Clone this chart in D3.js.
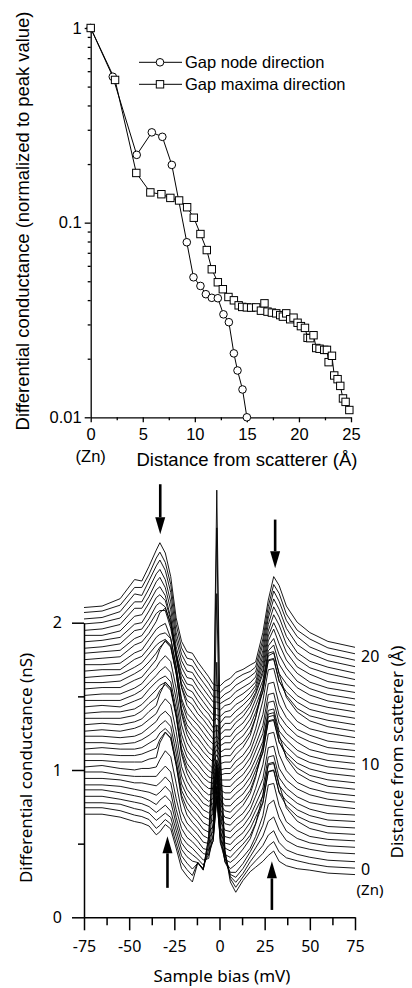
<!DOCTYPE html>
<html>
<head>
<meta charset="utf-8">
<script src="https://cdn.jsdelivr.net/npm/d3@7"></script>
<style>
  body { margin: 0; background: #fff; }
  svg { display: block; }
</style>
</head>
<body>
<svg id="chart" width="412" height="988"></svg>
<script>
// ---------- top panel: resonance intensity vs distance ----------
const nodeDist = [0, 2.12, 4.42, 5.87, 6.88, 7.79, 9.23, 9.87, 10.54, 11.06, 11.63, 12.21, 12.75, 13.27, 13.75, 14.10, 14.58, 15.0];
const nodeG = [1, 0.562, 0.223, 0.291, 0.276, 0.198, 0.0793, 0.0524, 0.0473, 0.0429, 0.0411, 0.0409, 0.0338, 0.0308, 0.0213, 0.0174, 0.0139, 0.0100];

const maxDist = [0, 2.34, 4.38, 5.73, 6.79, 7.65, 8.49, 9.26, 9.90, 10.54, 11.15, 11.63, 12.21, 12.69, 13.23,
  13.75, 14.21, 14.55, 15.0, 15.41, 15.89, 16.35, 16.69, 16.98, 17.40, 17.82, 18.20, 18.46, 18.78, 19.16,
  19.48, 19.87, 20.19, 20.58, 20.83, 21.09, 21.40, 21.66, 21.98, 22.43, 22.69, 22.85, 23.17, 23.39, 23.71,
  23.97, 24.23, 24.48, 24.84];
const maxG = [1, 0.541, 0.180, 0.143, 0.140, 0.134, 0.130, 0.120, 0.106, 0.0874, 0.0723, 0.0576, 0.0494, 0.0455, 0.0415,
  0.0399, 0.0376, 0.0369, 0.0367, 0.0366, 0.0367, 0.0353, 0.0385, 0.0349, 0.0345, 0.0342, 0.0335, 0.0329, 0.0342, 0.0319,
  0.0325, 0.0306, 0.0294, 0.0288, 0.0256, 0.0255, 0.0264, 0.0227, 0.0225, 0.0222, 0.0222, 0.0192, 0.0207, 0.0164, 0.0157,
  0.0145, 0.0125, 0.0120, 0.0109];

const legendLabels = ["Gap node direction", "Gap maxima direction"];
const topXTicks = [0, 5, 10, 15, 20, 25];
const topXMinor = [2.5, 7.5, 12.5, 17.5, 22.5];
const topYTicks = [0.01, 0.1, 1];
const topYMinor = [0.02, 0.03, 0.04, 0.05, 0.06, 0.07, 0.08, 0.09, 0.2, 0.3, 0.4, 0.5, 0.6, 0.7, 0.8, 0.9];

// ---------- bottom panel: spectra waterfall ----------
// sample bias (mV)
const bias = [-75, -65, -55, -47, -43, -39, -35, -33, -30, -27, -24, -21, -18, -15, -12, -9, -6, -3.5, -1.5, 0.5,
  3, 6, 9, 13, 17, 20, 24, 27, 30, 33, 37, 43, 50, 60, 75];
// distance from scatterer (Å), one spectrum each
const distances = [0, 0.6, 1.2, 1.8, 2.4, 3, 3.6, 4.2, 4.8, 5.4, 6, 6.6, 7.2, 7.8, 8.4, 9, 9.6, 10.2, 10.8, 11.4,
  12, 12.6, 13.2, 13.8, 14.4, 15, 15.6, 16.2, 16.8, 17.4, 18, 18.6, 19.2, 19.8, 20.4, 21];
// conductance (nS) before offset: one row per bias value, one column per distance
const dIdV = [
  [.70,.70,.69,.69,.69,.68,.68,.68,.67,.67,.67,.66,.66,.66,.65,.65,.65,.64,.64,.64,.63,.63,.63,.62,.62,.62,.61,.61,.60,.60,.60,.59,.59,.58,.58,.57], // -75
  [.70,.70,.69,.69,.69,.68,.68,.68,.68,.67,.67,.67,.66,.66,.66,.66,.65,.65,.65,.64,.64,.64,.63,.63,.63,.62,.62,.62,.61,.61,.60,.60,.60,.59,.59,.58], // -65
  [.68,.68,.68,.67,.67,.67,.67,.66,.66,.66,.66,.66,.65,.65,.65,.65,.65,.65,.64,.64,.64,.64,.64,.64,.63,.63,.63,.63,.63,.63,.63,.63,.63,.63,.63,.63], // -55
  [.65,.65,.65,.65,.65,.65,.65,.65,.65,.66,.66,.66,.66,.66,.67,.67,.67,.67,.68,.68,.68,.69,.69,.69,.70,.70,.71,.71,.72,.72,.73,.74,.74,.75,.75,.76], // -47
  [.64,.64,.64,.64,.64,.64,.65,.65,.66,.66,.67,.67,.68,.68,.69,.69,.70,.70,.70,.71,.71,.71,.72,.72,.72,.72,.73,.73,.73,.73,.74,.74,.74,.74,.75,.75], // -43
  [.62,.62,.62,.62,.62,.63,.64,.65,.66,.68,.69,.70,.71,.72,.73,.74,.75,.75,.76,.76,.77,.77,.77,.78,.78,.79,.79,.80,.80,.81,.82,.82,.83,.84,.84,.85], // -39
  [.56,.56,.57,.58,.59,.61,.63,.65,.67,.69,.71,.73,.75,.76,.77,.78,.79,.80,.81,.81,.82,.83,.83,.84,.85,.86,.87,.88,.89,.90,.91,.92,.93,.94,.95,.96], // -35
  [.58,.58,.59,.60,.62,.63,.65,.68,.72,.79,.77,.77,.78,.80,.82,.86,.84,.83,.83,.84,.86,.90,.87,.86,.87,.88,.93,.90,.91,.92,.93,.95,.96,.98,.99,1.01], // -33
  [.63,.62,.62,.63,.65,.67,.69,.72,.78,.86,.82,.80,.81,.83,.87,.94,.88,.85,.85,.87,.90,.96,.91,.88,.88,.90,.96,.90,.88,.88,.87,.88,.89,.91,.92,.94], // -30
  [.60,.59,.59,.59,.61,.63,.65,.68,.74,.82,.78,.76,.77,.79,.83,.90,.84,.81,.81,.83,.86,.92,.87,.84,.84,.80,.86,.78,.76,.75,.72,.73,.74,.76,.77,.78], // -27
  [.47,.46,.46,.46,.46,.46,.47,.50,.56,.64,.60,.58,.59,.61,.65,.72,.66,.63,.63,.65,.68,.74,.69,.66,.66,.60,.66,.58,.54,.52,.48,.48,.49,.49,.50,.50], // -24
  [.33,.33,.33,.33,.33,.33,.34,.35,.37,.41,.39,.38,.38,.39,.41,.45,.42,.40,.40,.41,.43,.46,.43,.41,.41,.39,.42,.38,.36,.35,.34,.34,.34,.34,.34,.34], // -21
  [.28,.28,.28,.28,.28,.28,.28,.29,.29,.30,.30,.30,.30,.30,.31,.32,.31,.30,.30,.30,.31,.32,.31,.30,.30,.29,.30,.29,.28,.28,.27,.27,.27,.27,.27,.27], // -18
  [.24,.24,.24,.25,.25,.25,.25,.25,.25,.25,.25,.25,.25,.25,.25,.25,.25,.25,.25,.25,.25,.25,.25,.25,.25,.25,.25,.26,.26,.26,.26,.26,.26,.26,.26,.26], // -15
  [.37,.33,.28,.24,.22,.21,.21,.21,.21,.21,.21,.21,.21,.21,.21,.21,.21,.21,.21,.21,.21,.21,.21,.21,.21,.21,.20,.20,.20,.20,.20,.20,.20,.20,.20,.20], // -12
  [.32,.28,.24,.20,.18,.17,.17,.16,.16,.16,.16,.16,.16,.16,.16,.16,.16,.16,.16,.16,.16,.16,.16,.16,.16,.16,.16,.16,.15,.15,.15,.15,.15,.15,.15,.15], // -9
  [.55,.49,.41,.33,.25,.18,.16,.15,.15,.14,.14,.14,.14,.14,.14,.13,.13,.13,.13,.12,.12,.12,.12,.11,.11,.11,.11,.11,.11,.11,.10,.10,.10,.10,.10,.10], // -6
  [1.16,1.04,.85,.65,.47,.35,.26,.21,.19,.19,.18,.18,.18,.17,.16,.15,.14,.13,.12,.11,.10,.09,.09,.09,.08,.08,.07,.07,.06,.06,.06,.06,.06,.05,.05,.05], // -3.5
  [2.90,2.60,2.11,1.60,1.13,.84,.62,.50,.45,.43,.42,.41,.40,.38,.36,.33,.30,.27,.23,.20,.17,.15,.14,.13,.12,.10,.09,.09,.08,.08,.06,.06,.06,.05,.05,.04], // -1.5
  [1.11,.99,.81,.61,.44,.33,.24,.20,.18,.18,.17,.17,.17,.16,.15,.14,.13,.12,.11,.10,.09,.08,.08,.08,.07,.07,.06,.06,.05,.05,.05,.05,.05,.04,.04,.04], // 0.5
  [.45,.41,.34,.27,.20,.16,.13,.12,.12,.11,.11,.11,.11,.11,.11,.10,.10,.10,.10,.10,.10,.09,.09,.09,.09,.09,.09,.09,.09,.09,.08,.08,.07,.07,.07,.07], // 3
  [.24,.22,.19,.16,.13,.11,.11,.10,.10,.10,.10,.10,.10,.10,.10,.10,.10,.10,.10,.10,.10,.09,.09,.09,.09,.09,.09,.09,.09,.09,.09,.09,.09,.09,.09,.09], // 6
  [.17,.16,.15,.14,.13,.14,.14,.14,.14,.14,.14,.14,.14,.14,.14,.14,.14,.14,.14,.14,.14,.14,.14,.14,.14,.14,.14,.14,.13,.13,.13,.13,.13,.13,.13,.13], // 9
  [.25,.23,.21,.20,.19,.19,.20,.19,.18,.18,.18,.18,.18,.19,.18,.18,.18,.18,.18,.18,.18,.18,.19,.18,.18,.18,.18,.18,.17,.17,.16,.16,.16,.16,.16,.15], // 13
  [.31,.30,.29,.28,.27,.25,.27,.25,.25,.25,.25,.25,.25,.27,.25,.25,.25,.25,.25,.25,.25,.25,.27,.25,.25,.25,.25,.25,.23,.22,.21,.20,.19,.19,.18,.18], // 17
  [.34,.34,.34,.34,.34,.33,.37,.33,.33,.33,.33,.34,.35,.38,.35,.34,.33,.33,.34,.34,.35,.36,.39,.35,.34,.34,.34,.33,.30,.28,.26,.24,.23,.22,.21,.20], // 20
  [.38,.39,.40,.42,.45,.47,.57,.47,.43,.43,.44,.46,.51,.60,.51,.46,.45,.45,.46,.47,.50,.55,.62,.53,.48,.47,.47,.47,.45,.44,.43,.42,.41,.41,.40,.40], // 24
  [.42,.44,.47,.52,.59,.68,.78,.68,.64,.64,.65,.67,.72,.81,.72,.67,.66,.66,.67,.68,.71,.76,.83,.74,.69,.68,.67,.66,.65,.64,.63,.63,.63,.62,.62,.62], // 27
  [.45,.47,.50,.55,.62,.69,.79,.69,.65,.65,.66,.68,.73,.82,.73,.68,.67,.67,.68,.69,.72,.77,.84,.75,.70,.70,.71,.71,.73,.73,.74,.75,.76,.77,.77,.78], // 30
  [.38,.40,.42,.46,.50,.54,.64,.54,.50,.50,.51,.53,.58,.67,.58,.53,.52,.52,.53,.54,.57,.62,.69,.60,.55,.56,.58,.60,.63,.65,.67,.68,.69,.70,.71,.72], // 33
  [.35,.36,.37,.39,.41,.43,.48,.45,.44,.44,.44,.45,.47,.51,.48,.46,.46,.46,.46,.47,.48,.50,.53,.50,.48,.49,.50,.51,.52,.53,.54,.55,.56,.57,.57,.58], // 37
  [.33,.34,.34,.35,.36,.37,.39,.38,.38,.38,.38,.39,.39,.41,.40,.39,.39,.39,.40,.40,.40,.41,.43,.41,.41,.41,.42,.42,.43,.43,.44,.44,.45,.46,.46,.47], // 43
  [.32,.32,.32,.33,.33,.33,.34,.34,.34,.34,.34,.35,.35,.36,.35,.35,.35,.35,.35,.36,.36,.36,.37,.36,.36,.36,.37,.37,.37,.38,.38,.38,.39,.39,.40,.40], // 50
  [.30,.30,.30,.31,.31,.31,.31,.31,.31,.31,.32,.32,.32,.32,.32,.32,.32,.32,.32,.32,.32,.33,.33,.33,.33,.33,.33,.33,.33,.33,.34,.34,.34,.34,.34,.34], // 60
  [.29,.29,.29,.30,.30,.30,.30,.30,.30,.30,.30,.30,.30,.30,.30,.30,.30,.30,.30,.30,.30,.30,.30,.30,.30,.30,.30,.30,.30,.30,.30,.30,.30,.30,.30,.30]  // 75
];
const offsetPerA = 0.073;   // nS of vertical offset per Å
const rightEndBase = 0.31;  // where the d = 0 spectrum ends at +75 mV
const distLabels = [0, 10, 20];

const botXTicks = [-75, -50, -25, 0, 25, 50, 75];
const botXMinor = [-62.5, -37.5, -12.5, 12.5, 37.5, 62.5];
const botYTicks = [0, 1, 2];
const botYMinor = [0.5, 1.5];

// arrows marking the coherence peaks (top) and the Zn-site bumps (bottom)
const arrowBias = [-32.8, 30.8, -28.8, 29];
const arrowFrom = [2.94, 2.70, 0.20, 0.05];
const arrowTo = [2.60, 2.37, 0.55, 0.38];

const ink = "#000";
const svg = d3.select("#chart");

function restyle(g, family, size, width) {
  g.attr("font-family", family).attr("font-size", size);
  g.selectAll("path, line").attr("stroke", ink).attr("stroke-width", width);
  g.selectAll("text").attr("fill", ink);
}

// ================= top panel =================
const topFont = "'Liberation Sans', Arial, sans-serif";
const xTop = d3.scaleLinear().domain([0, 25]).range([90.7, 351]);
const yTop = d3.scaleLog().domain([0.01, 1]).range([417.3, 28]);
const topG = svg.append("g");

topG.append("g")
  .attr("transform", `translate(0,${yTop(0.01)})`)
  .call(d3.axisBottom(xTop).tickValues(topXTicks).tickSize(5).tickSizeOuter(0).tickPadding(6).tickFormat(d => String(d)))
  .call(g => restyle(g, topFont, 16.5, 1.3));
topG.append("g")
  .attr("transform", `translate(0,${yTop(0.01)})`)
  .call(d3.axisBottom(xTop).tickValues(topXMinor).tickSize(3).tickFormat(""))
  .call(g => g.select(".domain").remove())
  .call(g => restyle(g, topFont, 16, 1.3));

topG.append("g")
  .attr("transform", `translate(${xTop(0)},0)`)
  .call(d3.axisLeft(yTop).tickValues(topYTicks).tickSize(6).tickSizeOuter(0).tickPadding(3).tickFormat(d => String(d)))
  .call(g => restyle(g, topFont, 16.5, 1.3));
topG.append("g")
  .attr("transform", `translate(${xTop(0)},0)`)
  .call(d3.axisLeft(yTop).tickValues(topYMinor).tickSize(3).tickFormat(""))
  .call(g => g.select(".domain").remove())
  .call(g => restyle(g, topFont, 16, 1.3));

topG.append("text").attr("x", xTop(0)).attr("y", 462)
  .attr("text-anchor", "middle").attr("font-family", topFont).attr("font-size", 16.5).text("(Zn)");
topG.append("text").attr("x", 247).attr("y", 466)
  .attr("text-anchor", "middle").attr("font-family", topFont).attr("font-size", 18.5)
  .text("Distance from scatterer (Å)");
topG.append("text").attr("transform", "translate(29,221) rotate(-90)")
  .attr("text-anchor", "middle").attr("font-family", topFont).attr("font-size", 18.4)
  .text("Differential conductance (normalized to peak value)");

const topLine = d3.line().x(d => xTop(d[0])).y(d => yTop(d[1]));
const nodePts = nodeDist.map((d, i) => [d, nodeG[i]]);
const maxPts = maxDist.map((d, i) => [d, maxG[i]]);

topG.append("path").attr("d", topLine(nodePts)).attr("fill", "none").attr("stroke", ink).attr("stroke-width", 1);
topG.append("path").attr("d", topLine(maxPts)).attr("fill", "none").attr("stroke", ink).attr("stroke-width", 1);

topG.selectAll(".node").data(nodePts).enter().append("circle")
  .attr("class", "node")
  .attr("cx", d => xTop(d[0])).attr("cy", d => yTop(d[1])).attr("r", 3.8)
  .attr("fill", "#fff").attr("stroke", ink).attr("stroke-width", 1);
topG.selectAll(".max").data(maxPts).enter().append("rect")
  .attr("class", "max")
  .attr("x", d => xTop(d[0]) - 3.7).attr("y", d => yTop(d[1]) - 3.7)
  .attr("width", 7.4).attr("height", 7.4)
  .attr("fill", "#fff").attr("stroke", ink).attr("stroke-width", 1);

// legend
legendLabels.forEach((label, k) => {
  const ly = 62.3 + k * 22;
  const lg = topG.append("g");
  lg.append("line").attr("x1", 139).attr("x2", 182).attr("y1", ly).attr("y2", ly)
    .attr("stroke", ink).attr("stroke-width", 1);
  if (k === 0) {
    lg.append("circle").attr("cx", 160).attr("cy", ly).attr("r", 3.8)
      .attr("fill", "#fff").attr("stroke", ink);
  } else {
    lg.append("rect").attr("x", 156.3).attr("y", ly - 3.7).attr("width", 7.4).attr("height", 7.4)
      .attr("fill", "#fff").attr("stroke", ink);
  }
  lg.append("text").attr("x", 185).attr("y", ly + 5.8)
    .attr("font-family", topFont).attr("font-size", 16.5).text(label);
});

// ================= bottom panel =================
const botFont = "'Noto Sans', 'Open Sans', sans-serif";
const xBot = d3.scaleLinear().domain([-75, 75]).range([84, 355]);
const yBot = d3.scaleLinear().domain([0, 2]).range([917.3, 622.7]);
const botG = svg.append("g");

// spectra
const specLine = d3.line().x(d => xBot(d[0])).y(d => yBot(d[1]));
const spectra = distances.map((dist, i) => bias.map((v, j) => [v, dIdV[j][i] + offsetPerA * dist]));
botG.append("g").selectAll("path").data(spectra).enter().append("path")
  .attr("d", specLine)
  .attr("fill", "none").attr("stroke", ink).attr("stroke-width", 0.9).attr("stroke-linejoin", "round");

// axes
botG.append("g")
  .attr("transform", `translate(0,${yBot(0)})`)
  .call(d3.axisBottom(xBot).tickValues(botXTicks).tickSize(13).tickSizeOuter(0).tickPadding(10).tickFormat(d => String(d)))
  .call(g => restyle(g, botFont, 16, 1.5));
botG.append("g")
  .attr("transform", `translate(0,${yBot(0)})`)
  .call(d3.axisBottom(xBot).tickValues(botXMinor).tickSize(8).tickFormat(""))
  .call(g => g.select(".domain").remove())
  .call(g => restyle(g, botFont, 16, 1.5));
botG.append("g")
  .attr("transform", `translate(${xBot(-75)},0)`)
  .call(d3.axisLeft(yBot).tickValues(botYTicks).tickSize(12).tickSizeOuter(0).tickPadding(10).tickFormat(d => String(d)))
  .call(g => restyle(g, botFont, 16, 1.5));
botG.append("g")
  .attr("transform", `translate(${xBot(-75)},0)`)
  .call(d3.axisLeft(yBot).tickValues(botYMinor).tickSize(6).tickFormat(""))
  .call(g => g.select(".domain").remove())
  .call(g => restyle(g, botFont, 16, 1.5));

// right-hand distance labels
botG.selectAll(".dist").data(distLabels).enter().append("text")
  .attr("class", "dist")
  .attr("x", 361).attr("y", d => yBot(rightEndBase + offsetPerA * d) + (d === 0 ? 3.5 : 5.5))
  .attr("font-family", botFont).attr("font-size", 16).text(d => String(d));
botG.append("text").attr("x", 370).attr("y", yBot(rightEndBase) + 23)
  .attr("text-anchor", "middle").attr("font-family", botFont).attr("font-size", 15).text("(Zn)");

botG.append("text").attr("transform", "translate(403,752) rotate(-90)")
  .attr("text-anchor", "middle").attr("font-family", botFont).attr("font-size", 17)
  .text("Distance from scatterer (Å)");
botG.append("text").attr("transform", "translate(32,768) rotate(-90)")
  .attr("text-anchor", "middle").attr("font-family", botFont).attr("font-size", 17)
  .text("Differential conductance (nS)");
botG.append("text").attr("x", 222).attr("y", 982)
  .attr("text-anchor", "middle").attr("font-family", botFont).attr("font-size", 17)
  .text("Sample bias (mV)");

// arrows
arrowBias.forEach((v, k) => {
  const x = xBot(v), y0 = yBot(arrowFrom[k]), y1 = yBot(arrowTo[k]);
  const dir = Math.sign(y1 - y0);
  const headLen = 17, headHalf = 5;
  botG.append("line").attr("x1", x).attr("x2", x).attr("y1", y0).attr("y2", y1 - dir * headLen)
    .attr("stroke", ink).attr("stroke-width", 2.6);
  botG.append("path")
    .attr("d", `M${x},${y1}L${x - headHalf},${y1 - dir * headLen}L${x + headHalf},${y1 - dir * headLen}Z`)
    .attr("fill", ink);
});
</script>
</body>
</html>
